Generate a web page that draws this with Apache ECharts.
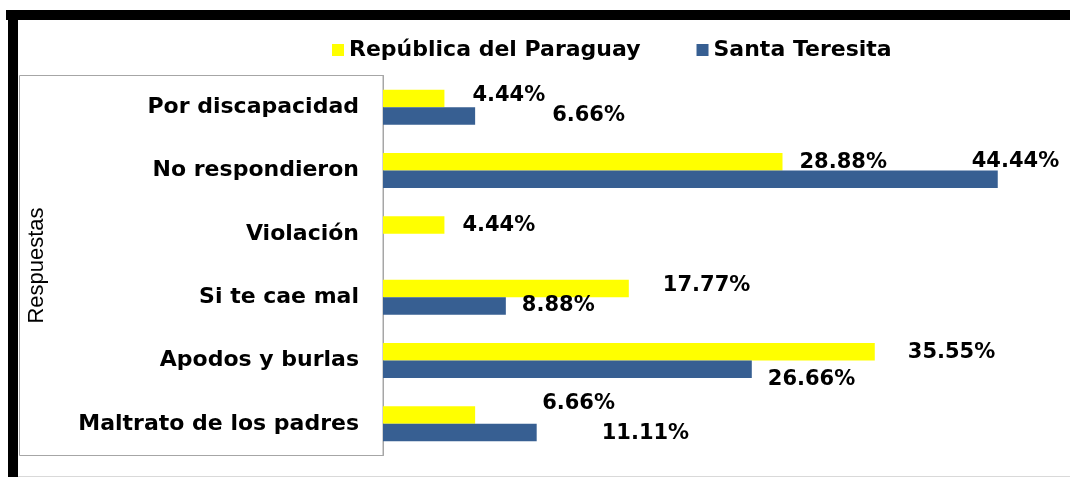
<!DOCTYPE html>
<html>
<head>
<meta charset="utf-8">
<script src="https://cdn.jsdelivr.net/npm/echarts@6/dist/echarts.min.js"></script>
<style>
  html, body { margin: 0; padding: 0; background: #fff; }
  #chart { width: 1070px; height: 477px; }
</style>
</head>
<body>
<div id="chart"></div>
<script>
const categories = ['Por discapacidad', 'No respondieron', 'Violación', 'Si te cae mal', 'Apodos y burlas', 'Maltrato de los padres']
const paraguay = [4.44, 28.88, 4.44, 17.77, 35.55, 6.66]
const santaTeresita = [6.66, 44.44, 0, 8.88, 26.66, 11.11]

// labels were dragged around by hand in the original, so each one gets its own offset
const paraguayLabelOffset = [[28, -3], [17, 1], [18, 0], [34, -3], [33, 1], [67, -12]]
const teresitaLabelOffset = [[77, 0], [-26, -18], [0, 0], [16, 0], [16, 10], [65, 1]]

const labelFont = {
    color: '#000',
    fontFamily: 'DejaVu Sans',
    fontWeight: 'bold',
    fontSize: 21
}

const toData = (values, offsets) => values.map((v, i) => ({
    value: v,
    label: { offset: offsets[i], show: v > 0 }
}))

const option = {
    animation: false,
    backgroundColor: '#fff',
    legend: {
        data: ['República del Paraguay', 'Santa Teresita'],
        left: 327,
        top: 34,
        itemWidth: 12,
        itemHeight: 12,
        itemGap: 56,
        icon: 'rect',
        itemStyle: { borderWidth: 0 },
        textStyle: { color: '#000', fontFamily: 'DejaVu Sans', fontWeight: 'bold', fontSize: 22 }
    },
    grid: { left: 383, right: 23, top: 75.5, bottom: 21.5 },
    xAxis: {
        type: 'value',
        min: 0,
        max: 48,
        show: false
    },
    yAxis: {
        type: 'category',
        data: categories,
        inverse: true,
        name: 'Respuestas',
        nameLocation: 'middle',
        nameRotate: 90,
        nameGap: 335,
        nameTextStyle: { color: '#000', fontFamily: 'Liberation Sans', fontSize: 22 },
        axisLine: { lineStyle: { color: '#a6a6a6', width: 1 } },
        axisTick: { show: false },
        axisLabel: {
            margin: 24,
            color: '#000',
            fontFamily: 'DejaVu Sans',
            fontWeight: 'bold',
            fontSize: 22
        }
    },
    series: [
        {
            name: 'República del Paraguay',
            type: 'bar',
            data: toData(paraguay, paraguayLabelOffset),
            barWidth: 17.5,
            barGap: '0%',
            itemStyle: { color: '#ffff00' },
            label: {
                show: true,
                position: 'right',
                distance: 0,
                formatter: p => p.value.toFixed(2) + '%',
                ...labelFont
            }
        },
        {
            name: 'Santa Teresita',
            type: 'bar',
            data: toData(santaTeresita, teresitaLabelOffset),
            barWidth: 17.5,
            barGap: '0%',
            itemStyle: { color: '#375f92' },
            label: {
                show: true,
                position: 'right',
                distance: 0,
                formatter: p => p.value.toFixed(2) + '%',
                ...labelFont
            }
        }
    ],
    graphic: [
        // label box on the left
        { type: 'rect', shape: { x: 19.5, y: 75.5, width: 363.5, height: 380 }, style: { fill: null, stroke: '#a6a6a6', lineWidth: 1 }, z: -1 },
        // thick black frame, top and left
        { type: 'rect', shape: { x: 6, y: 10, width: 1064, height: 10 }, style: { fill: '#000' } },
        { type: 'rect', shape: { x: 8, y: 10, width: 10, height: 467 }, style: { fill: '#000' } },
        { type: 'line', shape: { x1: 18, y1: 476.5, x2: 1070, y2: 476.5 }, style: { stroke: '#d9d9d9', lineWidth: 1 } }
    ]
}

const chart = echarts.init(document.getElementById('chart'))
chart.setOption(option)
</script>
</body>
</html>
